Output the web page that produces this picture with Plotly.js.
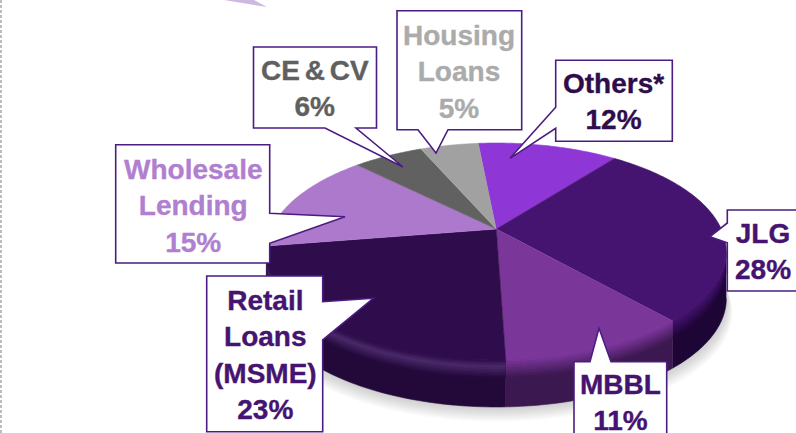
<!DOCTYPE html>
<html>
<head>
<meta charset="utf-8">
<script src="https://cdn.plot.ly/plotly-3.0.1.min.js"></script>
<style>html,body{margin:0;padding:0;background:#fff;overflow:hidden}#chart{width:796px;height:433px}</style>
</head>
<body>
<div id="chart"></div>
<script>
// ---- data (clockwise from the top of the pie) ----
const categories = ["Others*", "JLG", "MBBL", "Retail Loans (MSME)", "Wholesale Lending", "CE & CV", "Housing Loans"];
const shares = [12, 28, 11, 23, 15, 6, 5];
const labelLines = [["Others*"], ["JLG"], ["MBBL"], ["Retail", "Loans", "(MSME)"], ["Wholesale", "Lending"], ["CE & CV"], ["Housing", "Loans"]];

// ---- styles ----
const sliceColours = ["#8f36d6", "#451370", "#7b369a", "#2f0d4c", "#ac79cc", "#616161", "#a1a1a1"];
const wallColours  = ["#4a1a70", "#1d0535", "#3b1850", "#23083a", "#5a3a70", "#333333", "#555555"];
const textColours  = ["#2f0d4c", "#451370", "#451370", "#451370", "#b07fd0", "#606060", "#ababab"];
const rimHighlight = [null, null, null, "#4a2a6a", null, null, null];
const borderColour = "#4b1d82";

// ---- pie projection: a flat disc seen in perspective, in page pixels ----
const hub = {x: 496.3, y: 229}, spanX = 225, spanY = 103.8, tilt = 0.2074;
const startAngle = -5.5, depth = 47, bevel = 18, bevelSteps = 12;
function rim(deg, drop) {
  const r = deg * Math.PI / 180, X = Math.sin(r), Y = Math.cos(r), w = 1 + tilt * Y;
  return [hub.x + spanX * X / w, hub.y - spanY * Y / w + (drop || 0)];
}
function arc(a, b, drop) {
  const pts = [], n = Math.max(2, Math.ceil(Math.abs(b - a)));
  for (let i = 0; i <= n; i++) pts.push(rim(a + (b - a) * i / n, drop));
  return pts;
}
function polyTrace(pts, colour, line) {
  return {type: "scatter", mode: "lines", x: pts.map(p => p[0]), y: pts.map(p => p[1]),
    fill: "toself", fillcolor: colour, line: {width: line ? 0.6 : 0, color: colour, simplify: false},
    hoverinfo: "skip", showlegend: false};
}
function hex(c) { return [1, 3, 5].map(i => parseInt(c.substr(i, 2), 16)); }
function mix(a, b, t) {
  const A = hex(a), B = hex(b);
  return "rgb(" + A.map((v, i) => Math.round(v + (B[i] - v) * t)).join(",") + ")";
}

const total = shares.reduce((s, v) => s + v, 0);
const frontStart = Math.acos(-tilt) * 180 / Math.PI, frontEnd = 360 - frontStart;
const traces = [];

// soft shadow under the pie
for (let k = 16; k >= 2; k -= 2) {
  const pts = arc(frontStart - 20, frontEnd + 20, depth + k * 0.9).map(p => [hub.x + (p[0] - hub.x) * (1 + k * 0.0016), p[1]]);
  traces.push(polyTrace(pts, "rgba(90,90,90,0.035)"));
}

// walls and rim shading
const spans = [];
let cursor = startAngle;
shares.forEach(v => { const sweep = v / total * 360; spans.push([cursor, cursor + sweep]); cursor += sweep; });
spans.forEach((s, i) => {
  const a = Math.max(s[0], frontStart), b = Math.min(s[1], frontEnd);
  if (a >= b) return;
  traces.push(polyTrace(arc(a, b, 0).concat(arc(b, a, depth)), wallColours[i], true));
  for (let j = 0; j < bevelSteps; j++) {
    const d0 = bevel * j / bevelSteps, d1 = bevel * (j + 1) / bevelSteps + 0.5, t = (j + 0.5) / bevelSteps;
    let c = mix(sliceColours[i], wallColours[i], t);
    if (rimHighlight[i]) c = t < 0.35 ? mix(sliceColours[i], rimHighlight[i], t / 0.35) : mix(rimHighlight[i], wallColours[i], (t - 0.35) / 0.65);
    traces.push(polyTrace(arc(a, b, d0).concat(arc(b, a, d1)), c));
  }
});

// top surface
spans.forEach((s, i) => {
  traces.push(polyTrace([[hub.x, hub.y]].concat(arc(s[0], s[1], 0)), sliceColours[i], true));
});

// ---- callouts (page pixels): box, then pointer base and tip ----
const callouts = [
  {label: 5, box: [253.5, 47, 376.5, 128], side: "b", base: [325, 356], tip: [403, 167], text: [315, 88.5]},
  {label: 6, box: [397, 10.7, 521.7, 129.7], side: "b", base: [418, 448], tip: [436, 153], text: [459, 71.5]},
  {label: 0, box: [555.7, 60.3, 672.3, 141.3], side: "l", base: [107.3, 128.3], tip: [510, 158.3], text: [613, 101]},
  {label: 4, box: [115.7, 144.7, 269.7, 263], side: "r", base: [213.3, 243.3], tip: [345, 216.7], text: [192.5, 205.5]},
  {label: 3, box: [206.7, 276, 322.7, 431.7], side: "r", base: [301.7, 340], tip: [373.3, 298.3], text: [265, 355]},
  {label: 1, box: [727.3, 210, 830, 291], side: "l", base: [223, 242.7], tip: [710, 236.7], text: [763, 251]},
  {label: 2, box: [574, 361.7, 666.7, 470], side: "t", base: [590, 611], tip: [599, 328.3], text: [620, 402]}
];
function calloutPath(c) {
  const [x0, y0, x1, y1] = c.box, [b0, b1] = c.base, [tx, ty] = c.tip;
  let p = "M" + x0 + "," + y0;
  if (c.side === "t") p += " L" + b0 + "," + y0 + " L" + tx + "," + ty + " L" + b1 + "," + y0;
  p += " L" + x1 + "," + y0;
  if (c.side === "r") p += " L" + x1 + "," + b0 + " L" + tx + "," + ty + " L" + x1 + "," + b1;
  p += " L" + x1 + "," + y1;
  if (c.side === "b") p += " L" + b1 + "," + y1 + " L" + tx + "," + ty + " L" + b0 + "," + y1;
  p += " L" + x0 + "," + y1;
  if (c.side === "l") p += " L" + x0 + "," + b1 + " L" + tx + "," + ty + " L" + x0 + "," + b0;
  return p + " Z";
}
const shapes = callouts.map(c => ({type: "path", xref: "x", yref: "y", path: calloutPath(c),
  fillcolor: "#ffffff", line: {color: borderColour, width: 1.6}, layer: "above"}));
shapes.push({type: "line", xref: "x", yref: "y", x0: 1, x1: 1, y0: 0, y1: 433,
  line: {color: "#bdbdbd", width: 2, dash: "3px,2px"}, layer: "above"});
shapes.push({type: "path", xref: "x", yref: "y", path: "M224,0 L254,0 L267,7 Z",
  fillcolor: "#cdb8e2", line: {width: 0}, layer: "above"});

const annotations = callouts.map(c => ({
  xref: "x", yref: "y", x: c.text[0], y: c.text[1], showarrow: false, align: "center",
  xanchor: "center", yanchor: "middle",
  text: labelLines[c.label].concat([shares[c.label] + "%"]).map(s => "<b>" + s + "</b>").join("<br>"),
  font: {family: "Liberation Sans, Arial, sans-serif", size: 28, color: textColours[c.label]}
}));

Plotly.newPlot("chart", traces, {
  width: 796, height: 433, margin: {l: 0, r: 0, t: 0, b: 0},
  paper_bgcolor: "#ffffff", plot_bgcolor: "#ffffff", showlegend: false,
  xaxis: {range: [0, 796], visible: false, fixedrange: true},
  yaxis: {range: [433, 0], visible: false, fixedrange: true},
  shapes: shapes, annotations: annotations
}, {staticPlot: true, displayModeBar: false}).then(() => {
  // the reference's lettering is a little heavier, with narrow word gaps
  document.querySelectorAll(".annotation-text").forEach(t => {
    t.style.stroke = t.style.fill;
    t.style.strokeWidth = "0.35px";
    t.style.wordSpacing = "-3px";
  });
});
</script>
</body>
</html>
